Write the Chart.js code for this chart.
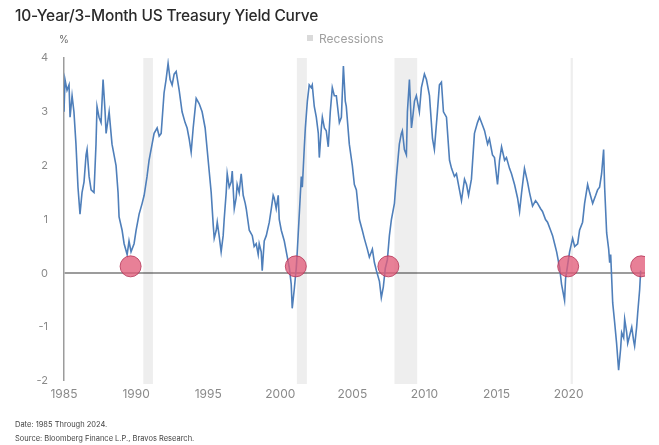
<!DOCTYPE html>
<html>
<head>
<meta charset="utf-8">
<script src="https://cdn.jsdelivr.net/npm/chart.js@4.4.1/dist/chart.umd.min.js"></script>
<style>
body{margin:0;background:#fff;font-family:Inter,"Open Sans",sans-serif;}
#wrap{position:relative;width:659px;height:445px;overflow:hidden;}
#Chart{position:absolute;left:0;top:0;}
#title{position:absolute;left:15px;top:6px;font-size:15.5px;font-weight:500;color:#2a2a2a;letter-spacing:-0.2px;}
#unit{position:absolute;left:59px;top:33px;font-size:10px;color:#666;}
#legend{position:absolute;left:307px;top:31px;font-size:12px;color:#a0a0a0;}
#legend span{display:inline-block;width:6px;height:6px;background:#dadada;margin-right:6px;vertical-align:2px;}
#note{position:absolute;left:15px;top:418px;font-size:7.5px;line-height:14px;color:#444;}
</style>
</head>
<body>
<div id="wrap">
  <canvas id="Chart" width="659" height="445"></canvas>
  <div id="title">10-Year/3-Month US Treasury Yield Curve</div>
  <div id="unit">%</div>
  <div id="legend"><span></span>Recessions</div>
  <div id="note">Date: 1985 Through 2024.<br>Source: Bloomberg Finance L.P., Bravos Research.</div>
</div>
<script>
// 10y minus 3m spread (decimal years)
var years = [
  1985.00,1985.07,1985.21,1985.35,1985.42,1985.56,1985.69,1985.83,1985.97,1986.11,1986.25,1986.39,1986.53,1986.60,1986.74,1986.88,
  1987.08,1987.22,1987.29,1987.43,1987.57,1987.71,1987.85,1987.92,1988.13,1988.33,1988.61,1988.75,1988.82,1989.03,1989.17,1989.38,1989.51,1989.65,1989.86,
  1990.00,1990.21,1990.42,1990.56,1990.76,1990.90,1991.11,1991.25,1991.46,1991.60,1991.74,1991.94,1992.08,1992.22,1992.36,1992.50,1992.64,1992.78,1992.99,
  1993.19,1993.40,1993.54,1993.68,1993.82,1993.96,1994.17,1994.38,1994.58,1994.79,1994.93,
  1995.07,1995.21,1995.35,1995.42,1995.56,1995.63,1995.76,1995.90,1996.04,1996.11,1996.25,1996.32,1996.46,1996.60,1996.67,1996.81,1996.94,
  1997.01,1997.15,1997.29,1997.43,1997.57,1997.64,1997.85,1998.06,1998.19,1998.33,1998.47,1998.54,1998.68,1998.75,1998.89,
  1999.03,1999.24,1999.38,1999.51,1999.58,1999.72,1999.86,1999.93,
  2000.07,2000.28,2000.49,2000.63,2000.76,2000.83,2000.97,2001.11,2001.18,2001.32,2001.46,2001.53,2001.67,2001.74,2001.88,
  2002.01,2002.15,2002.22,2002.36,2002.50,2002.64,2002.71,2002.85,2002.92,2003.06,2003.19,2003.33,2003.47,2003.61,2003.75,2003.89,
  2004.10,2004.24,2004.38,2004.51,2004.58,2004.79,
  2005.00,2005.14,2005.28,2005.49,2005.69,2005.83,2006.04,2006.18,2006.39,2006.53,2006.67,2006.88,
  2007.01,2007.15,2007.29,2007.43,2007.57,2007.71,2007.92,2008.06,2008.26,2008.40,2008.47,2008.61,2008.75,2008.82,2008.96,
  2009.10,2009.17,2009.31,2009.44,2009.65,2009.79,
  2010.00,2010.14,2010.35,2010.56,2010.69,2010.90,2011.04,2011.18,2011.32,2011.53,2011.74,2011.88,
  2012.08,2012.22,2012.43,2012.57,2012.78,2012.92,2013.06,2013.26,2013.47,2013.68,2013.82,2014.03,2014.17,2014.38,2014.51,2014.72,2014.86,
  2015.07,2015.21,2015.35,2015.56,2015.69,2015.90,2016.04,2016.25,2016.46,2016.60,2016.74,2016.94,
  2017.15,2017.29,2017.50,2017.71,2017.85,2018.06,2018.19,2018.40,2018.54,2018.75,2018.89,
  2019.03,2019.17,2019.38,2019.51,2019.72,2019.79,2019.93,
  2020.07,2020.28,2020.42,2020.63,2020.76,2020.97,2021.11,2021.32,2021.46,2021.67,2021.88,
  2022.01,2022.15,2022.29,2022.43,2022.50,2022.64,2022.78,2022.85,2022.92,
  2023.06,2023.19,2023.33,2023.47,2023.61,2023.68,2023.82,2023.89,
  2024.03,2024.10,2024.24,2024.38,2024.51,2024.58,2024.72,2024.79,2024.93,2025.00
];
var spread = [
  3.0,3.6,3.4,3.5,2.9,3.3,3.0,2.4,1.6,1.1,1.5,1.7,2.2,2.3,1.8,1.55,
  1.5,2.4,3.1,2.9,2.8,3.6,3.0,2.6,3.0,2.4,2.0,1.5,1.05,0.8,0.55,0.35,0.6,0.4,0.55,
  0.8,1.1,1.3,1.45,1.8,2.1,2.4,2.6,2.7,2.55,2.6,3.35,3.6,3.9,3.6,3.5,3.7,3.75,3.4,
  3.0,2.8,2.7,2.5,2.25,2.7,3.25,3.15,3.0,2.7,2.3,
  1.9,1.5,0.9,0.65,0.8,0.95,0.7,0.4,0.7,1.0,1.5,1.85,1.6,1.7,1.9,1.2,1.4,
  1.65,1.5,1.85,1.45,1.3,1.2,0.8,0.7,0.5,0.55,0.35,0.55,0.4,0.05,0.6,
  0.7,0.95,1.2,1.45,1.4,1.2,1.45,1.0,
  0.8,0.6,0.3,0.1,-0.2,-0.65,-0.3,0.1,0.4,1.1,1.8,1.6,2.35,2.7,3.2,
  3.5,3.45,3.5,3.1,2.9,2.6,2.15,2.7,2.9,2.7,2.65,2.35,3.0,3.45,3.3,3.3,
  2.8,2.9,3.85,3.2,3.1,2.4,
  2.0,1.65,1.55,1.0,0.8,0.65,0.45,0.3,0.45,0.2,0.05,-0.15,
  -0.45,-0.25,0.1,0.25,0.7,1.0,1.3,1.8,2.4,2.6,2.65,2.3,2.2,3.0,3.6,
  2.7,2.85,3.2,3.3,3.0,3.45,
  3.7,3.6,3.3,2.5,2.3,3.0,3.5,3.55,3.0,2.9,2.1,1.95,
  1.8,1.85,1.55,1.35,1.75,1.65,1.45,1.75,2.6,2.8,2.9,2.75,2.65,2.4,2.5,2.2,2.15,
  1.65,2.1,2.35,2.1,2.15,1.95,1.85,1.65,1.4,1.15,1.5,1.95,
  1.7,1.5,1.25,1.35,1.3,1.2,1.15,1.0,0.95,0.8,0.7,
  0.55,0.4,0.1,-0.2,-0.5,-0.1,0.15,
  0.4,0.65,0.5,0.55,0.8,0.95,1.3,1.65,1.5,1.3,1.45,
  1.55,1.6,1.85,2.3,1.6,0.75,0.45,0.2,0.35,
  -0.55,-0.9,-1.3,-1.8,-1.4,-1.1,-1.2,-0.85,
  -1.1,-1.3,-1.15,-1.0,-1.25,-1.35,-1.0,-0.75,-0.3,0.05
];

// recession periods (gray bands)
var recStart = [1990.50, 2001.15, 2007.92, 2020.14];
var recEnd   = [1991.17, 2001.85, 2009.50, 2020.30];

// red dots where the curve comes back from inversion
var signalYears  = [1989.62, 2001.08, 2007.50, 2019.97, 2025.03];
var signalValues = [0.13, 0.13, 0.13, 0.13, 0.13];

var recessionBands = {
  id: 'recessionBands',
  beforeDatasetsDraw: function(chart) {
    var ctx = chart.ctx, xs = chart.scales.x, a = chart.chartArea;
    ctx.save();
    ctx.fillStyle = 'rgba(0,0,0,0.065)';
    for (var i = 0; i < recStart.length; i++) {
      var x0 = xs.getPixelForValue(recStart[i]);
      var x1 = xs.getPixelForValue(recEnd[i]);
      ctx.fillRect(x0, a.top, Math.max(x1 - x0, 2), a.bottom - a.top + 3);
    }
    ctx.restore();
  }
};

var lineData = years.map(function(y, i) { return {x: y, y: spread[i]}; });
var dotData = signalYears.map(function(y, i) { return {x: y, y: signalValues[i]}; });

var ctx = document.getElementById("Chart").getContext("2d");
var chart = new Chart(ctx, {
  type: 'line',
  data: {
    datasets: [{
      label: 'Signal',
      data: dotData,
      showLine: false,
      pointRadius: 10.5,
      pointBackgroundColor: 'rgba(226,92,122,0.78)',
      pointBorderColor: 'rgba(180,50,85,0.8)',
      pointBorderWidth: 1
    }, {
      label: '10Y-3M',
      data: lineData,
      borderColor: '#4f7fba',
      borderWidth: 1.6,
      pointRadius: 0,
      tension: 0,
      fill: false
    }]
  },
  options: {
    responsive: false,
    animation: false,
    layout: {padding: {left: 0, top: 58, right: 14, bottom: 40}},
    plugins: {legend: {display: false}, tooltip: {enabled: false}},
    scales: {
      x: {
        type: 'linear', min: 1985, max: 2025.3,
        afterFit: function(s) { s.height = 24; },
        ticks: {
          stepSize: 5, includeBounds: false, autoSkip: false, maxRotation: 0,
          color: '#8a8a8a', font: {family: 'Inter', size: 12}, padding: 6,
          callback: function(v) { return v <= 2020 ? String(v) : ''; }
        },
        grid: {display: false, drawTicks: false},
        border: {display: false}
      },
      y: {
        min: -2, max: 4,
        afterFit: function(s) { s.width = 64; },
        ticks: {stepSize: 1, color: '#8a8a8a', font: {family: 'Inter', size: 11}, padding: 16},
        grid: {
          drawTicks: false,
          color: function(c) { return c.tick && c.tick.value === 0 ? '#9c9c9c' : 'rgba(0,0,0,0)'; },
          lineWidth: function(c) { return c.tick && c.tick.value === 0 ? 2 : 0; }
        },
        border: {display: true, color: '#9c9c9c', width: 1.5}
      }
    }
  },
  plugins: [recessionBands]
});
</script>
</body>
</html>
